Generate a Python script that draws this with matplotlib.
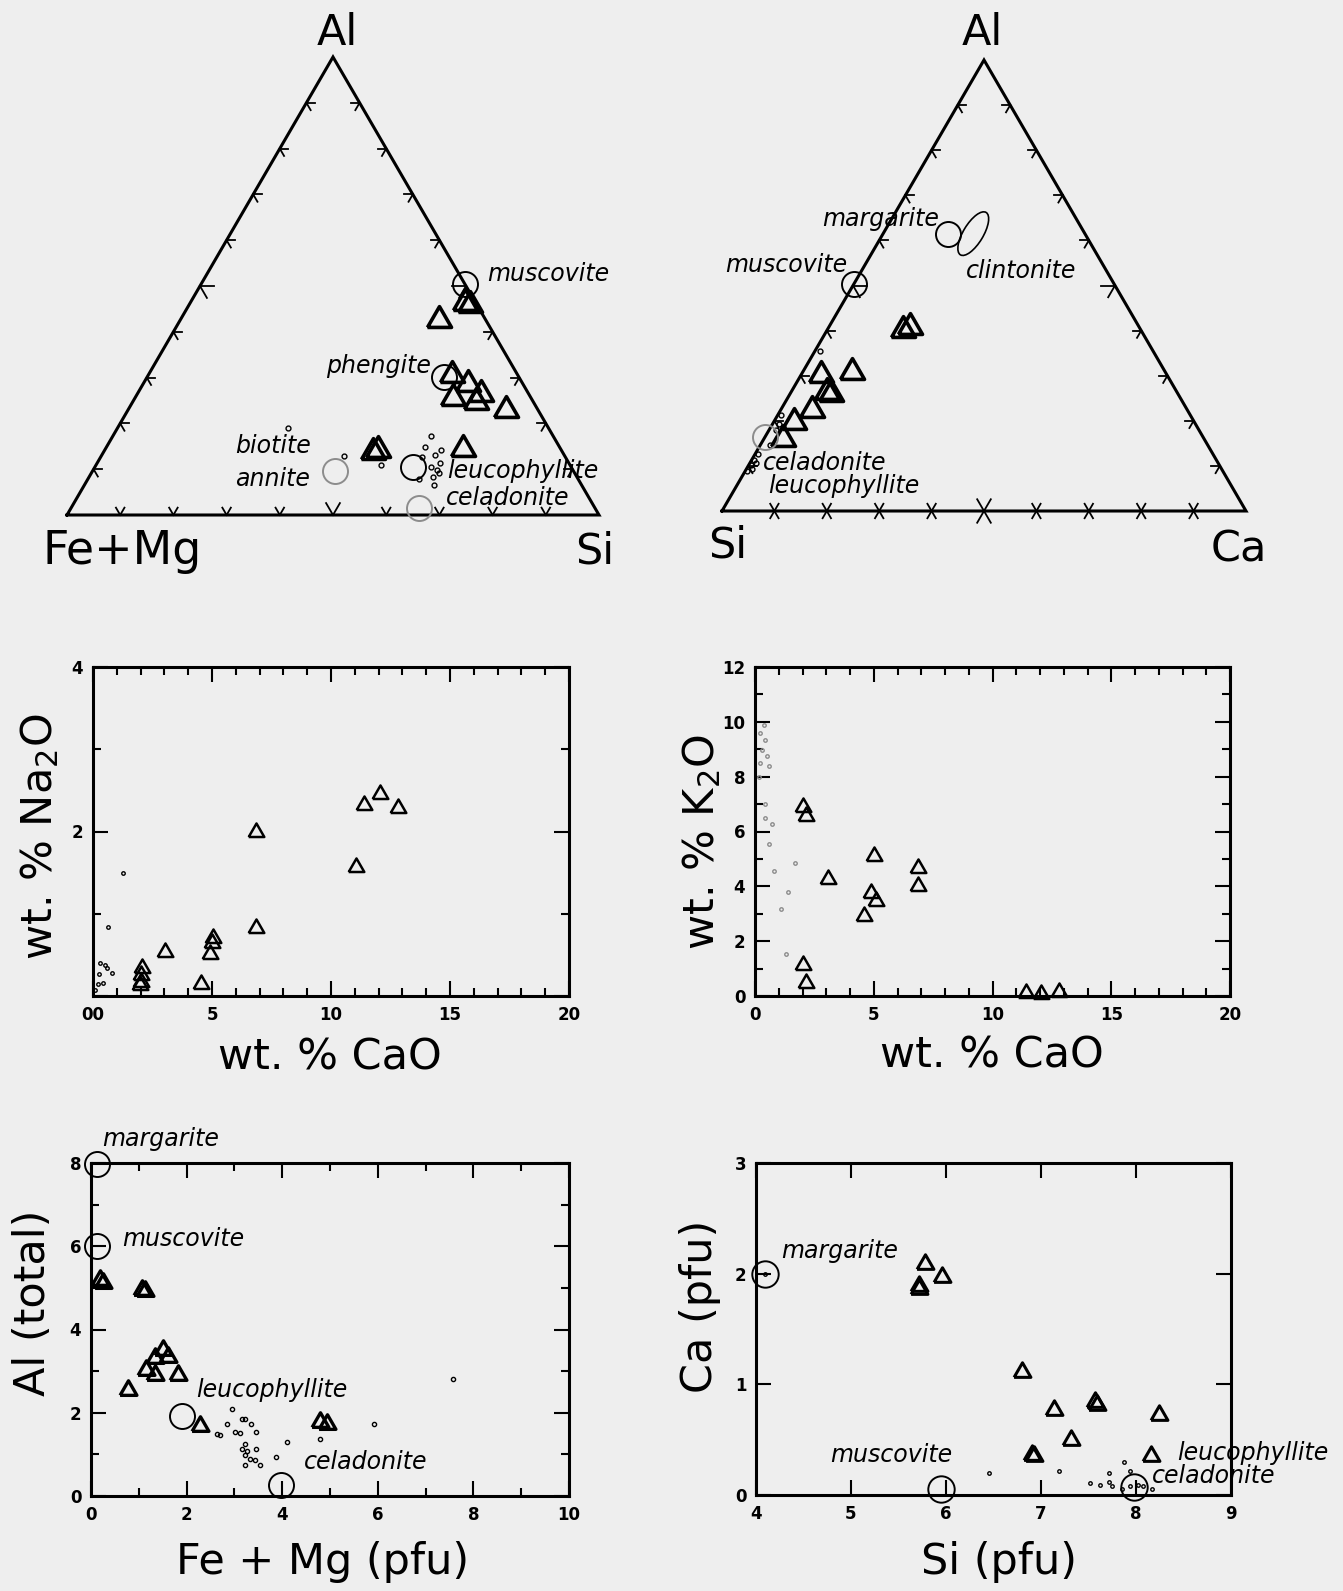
import numpy as np
import matplotlib
matplotlib.use('Agg')
import matplotlib.pyplot as plt
from matplotlib.patches import Ellipse

W, H = 1343, 1591
BG = '#eeeeee'
GREY = '#8c8c8c'

# ---------------- ternary 1: Al (top) - Fe+Mg (left) - Si (right); fractions, Fe+Mg = 1 - Al - Si
t1_tri_al = [0.462, 0.458, 0.425, 0.305, 0.287, 0.265, 0.255, 0.247, 0.229, 0.145, 0.138, 0.143]
t1_tri_si = [0.517, 0.529, 0.487, 0.572, 0.611, 0.646, 0.598, 0.645, 0.711, 0.672, 0.507, 0.513]
t1_dot_al = [0.189, 0.129, 0.109, 0.172, 0.149, 0.131, 0.143, 0.127, 0.105, 0.098, 0.084, 0.091, 0.065, 0.078, 0.113]
t1_dot_si = [0.321, 0.456, 0.536, 0.599, 0.599, 0.626, 0.631, 0.604, 0.632, 0.646, 0.646, 0.654, 0.658, 0.622, 0.645]
t1_end_names = ['muscovite', 'phengite', 'annite', 'leucophyllite', 'celadonite']
t1_end_al = [0.505, 0.302, 0.095, 0.105, 0.015]
t1_end_si = [0.495, 0.557, 0.456, 0.598, 0.654]
t1_end_grey = [False, False, True, False, True]

# ---------------- ternary 2: Al (top) - Si (left) - Ca (right); Si = 1 - Al - Ca
t2_tri_al = [0.402, 0.407, 0.308, 0.301, 0.264, 0.260, 0.223, 0.197, 0.160]
t2_tri_ca = [0.144, 0.155, 0.094, 0.039, 0.069, 0.078, 0.061, 0.038, 0.036]
t2_dot_al = [0.355, 0.212, 0.194, 0.179, 0.186, 0.146, 0.126, 0.112, 0.101, 0.089, 0.094, 0.107]
t2_dot_ca = [0.010, 0.007, 0.012, 0.014, 0.023, 0.018, 0.005, 0.005, 0.004, 0.004, 0.011, 0.011]
t2_end_names = ['muscovite', 'margarite', 'celadonite']
t2_end_al = [0.504, 0.615, 0.164]
t2_end_ca = [0.000, 0.124, 0.000]
t2_end_grey = [False, False, True]
clintonite_al, clintonite_ca = 0.615, 0.172

# ---------------- Na2O vs CaO (wt. %)
na_tri_cao = [6.83, 11.39, 12.05, 12.80, 11.03, 6.84, 3.03, 5.05, 4.98, 4.91, 2.07, 2.03, 2.00, 1.96, 4.53]
na_tri_na2o = [2.00, 2.32, 2.46, 2.28, 1.57, 0.83, 0.53, 0.70, 0.64, 0.51, 0.34, 0.26, 0.17, 0.13, 0.14]
na_dot_cao = [0.07, 0.20, 0.42, 0.28, 0.50, 0.60, 0.80, 0.25, 0.63, 1.26]
na_dot_na2o = [0.07, 0.15, 0.16, 0.40, 0.38, 0.34, 0.28, 0.27, 0.84, 1.49]

# ---------------- K2O vs CaO (wt. %)
k_tri_cao = [2.03, 2.13, 5.01, 3.08, 6.87, 6.87, 4.89, 5.11, 4.57, 2.03, 2.13, 11.40, 12.03, 12.78]
k_tri_k2o = [6.88, 6.58, 5.12, 4.26, 4.67, 4.02, 3.74, 3.47, 2.92, 1.13, 0.49, 0.12, 0.09, 0.16]
k_dot_cao = [0.44, 0.70, 0.58, 1.67, 0.80, 1.38, 1.09, 1.31, 0.44, 0.29, 0.22, 0.50, 0.15, 0.22, 0.36, 0.58, 0.44]
k_dot_k2o = [6.50, 6.27, 5.54, 4.85, 4.55, 3.78, 3.17, 1.55, 9.35, 8.99, 8.50, 8.75, 8.00, 9.60, 9.90, 8.40, 7.00]

# ---------------- Al (total) vs Fe + Mg (pfu)
al_end_names = ['margarite', 'muscovite', 'leucophyllite', 'celadonite']
al_end_femg = [0.12, 0.12, 1.90, 3.97]
al_end_al = [7.98, 6.00, 1.92, 0.26]
al_tri_femg = [0.19, 0.26, 1.06, 1.13, 1.51, 1.62, 1.34, 1.15, 1.34, 1.83, 0.78, 2.28, 4.79, 4.93]
al_tri_al = [5.19, 5.11, 4.94, 4.92, 3.51, 3.35, 3.31, 3.03, 2.91, 2.91, 2.54, 1.67, 1.78, 1.74]
al_dot_femg = [2.94, 3.15, 3.22, 3.34, 3.45, 3.01, 3.12, 2.63, 2.70, 3.22, 3.15, 3.26, 3.46, 3.22, 3.33,
               3.43, 3.22, 3.54, 3.88, 4.09, 4.79, 5.92, 7.57, 2.84]
al_dot_al = [2.09, 1.85, 1.85, 1.73, 1.53, 1.53, 1.52, 1.49, 1.47, 1.25, 1.13, 1.09, 1.13, 0.98, 0.90,
             0.86, 0.74, 0.74, 0.94, 1.30, 1.38, 1.74, 2.80, 1.72]

# ---------------- Ca vs Si (pfu)
ca_end_names = ['margarite', 'muscovite', 'celadonite']
ca_end_si = [4.09, 5.95, 7.98]
ca_end_ca = [2.00, 0.05, 0.075]
ca_tri_si = [5.78, 5.96, 5.72, 5.72, 6.80, 7.14, 7.57, 7.59, 8.24, 7.32, 6.91, 6.93, 8.16]
ca_tri_ca = [2.09, 1.97, 1.89, 1.86, 1.11, 0.77, 0.84, 0.81, 0.72, 0.50, 0.36, 0.35, 0.35]
ca_dot_si = [6.45, 7.19, 7.87, 7.94, 7.72, 7.52, 7.62, 7.72, 7.75, 7.85, 7.94, 8.02, 8.07, 8.17, 4.09]
ca_dot_ca = [0.20, 0.22, 0.30, 0.22, 0.20, 0.11, 0.09, 0.12, 0.08, 0.05, 0.08, 0.09, 0.08, 0.05, 2.00]

S3 = np.sqrt(3) / 2
TRI = [(-1, -0.577), (1, -0.577), (0, 1.155), (-1, -0.577)]


def px_axes(fig, left, top, right, bottom):
    return fig.add_axes([left / W, 1 - bottom / H, (right - left) / W, (bottom - top) / H])


def ptext(fig, x, y, s, **kw):
    fig.text(x / W, 1 - y / H, s, **kw)


def tern_xy(top, right):
    top = np.asarray(top, dtype=float)
    right = np.asarray(right, dtype=float)
    return right + top / 2, top * S3


def draw_frame(ax, cross_base=False):
    pts = np.array([[0, 0], [1, 0], [0.5, S3], [0, 0]])
    ax.plot(pts[:, 0], pts[:, 1], color='k', lw=2.2, clip_on=False, solid_joinstyle='miter')
    sides = [(pts[0], pts[1], pts[2]), (pts[1], pts[2], pts[0]), (pts[2], pts[0], pts[1])]
    for k, (p, q, r) in enumerate(sides):
        for i in range(1, 10):
            pt = p + i / 10 * (q - p)
            length = 0.026 if i == 5 else 0.016
            for d in (r - p, r - q):
                d = d / np.linalg.norm(d)
                start = pt - d * length if (cross_base and k == 0) else pt
                end = pt + d * length
                ax.plot([start[0], end[0]], [start[1], end[1]], color='k', lw=1.3, clip_on=False)
    ax.set_xlim(0, 1)
    ax.set_ylim(0, S3)
    ax.axis('off')


def style_panel(ax, xlim, ylim, xmaj, ymaj, xminor=(), yminor=(), xlabels=None, ylabels=None):
    ax.set_xlim(*xlim)
    ax.set_ylim(*ylim)
    ax.set_xticks(xmaj)
    ax.set_yticks(ymaj)
    ax.set_xticks(xminor, minor=True)
    ax.set_yticks(yminor, minor=True)
    if xlabels is not None:
        ax.set_xticklabels(xlabels)
    if ylabels is not None:
        ax.set_yticklabels(ylabels)
    ax.tick_params(which='both', direction='in', top=True, right=True, width=1.5)
    ax.tick_params(which='major', length=11, labelsize=12, pad=7)
    ax.tick_params(which='minor', length=6)
    for lab in ax.get_xticklabels() + ax.get_yticklabels():
        lab.set_fontweight('bold')
    for sp in ax.spines.values():
        sp.set_linewidth(2.2)
    ax.set_facecolor('none')


def tri(ax, x, y, ms=13, mew=1.8):
    ax.plot(x, y, ls='none', marker=TRI, ms=ms, mfc='none', mec='k', mew=mew, clip_on=False, zorder=4)


def dots(ax, x, y, color='k', ms=3.5):
    ax.plot(x, y, ls='none', marker='o', ms=ms, mfc='none', mec=color, mew=1.0, clip_on=False, zorder=3)


def circles(ax, x, y, grey=None, ms=18):
    for i, (xi, yi) in enumerate(zip(x, y)):
        c = GREY if (grey is not None and grey[i]) else 'k'
        ax.plot([xi], [yi], ls='none', marker='o', ms=ms, mfc='none', mec=c, mew=1.4,
                clip_on=False, zorder=5)


fig = plt.figure(figsize=(W / 100, H / 100), dpi=100, facecolor=BG)
lab_kw = dict(fontsize=17, style='italic', va='center')
big_kw = dict(fontsize=31, ha='center', va='center')

# ---- ternary 1
ax = px_axes(fig, 67, 57, 599, 515)
draw_frame(ax)
x, y = tern_xy(t1_dot_al, t1_dot_si)
dots(ax, x, y)
x, y = tern_xy(t1_tri_al, t1_tri_si)
tri(ax, x, y, ms=20, mew=2.6)
x, y = tern_xy(t1_end_al, t1_end_si)
circles(ax, x, y, grey=t1_end_grey)
ptext(fig, 487, 274, 'muscovite', **lab_kw)
ptext(fig, 431, 366, 'phengite', ha='right', **lab_kw)
ptext(fig, 235, 446, 'biotite', **lab_kw)
ptext(fig, 235, 479, 'annite', **lab_kw)
ptext(fig, 447, 471, 'leucophyllite', **lab_kw)
ptext(fig, 446, 498, 'celadonite', **lab_kw)
ptext(fig, 337, 33, 'Al', **big_kw)
ptext(fig, 122, 551, 'Fe+Mg', fontsize=33, ha='center', va='center')
ptext(fig, 595, 551, 'Si', **big_kw)

# ---- ternary 2
ax = px_axes(fig, 722, 60, 1246, 511)
draw_frame(ax, cross_base=True)
x, y = tern_xy(t2_dot_al, t2_dot_ca)
dots(ax, x, y)
x, y = tern_xy(t2_tri_al, t2_tri_ca)
tri(ax, x, y, ms=20, mew=2.6)
x, y = tern_xy(t2_end_al, t2_end_ca)
circles(ax, x, y, grey=t2_end_grey)
cx, cy = tern_xy(clintonite_al, clintonite_ca)
ax.add_patch(Ellipse((float(cx), float(cy)), 0.038, 0.095, angle=-31, fill=False, ec='k', lw=1.2))
ptext(fig, 939, 219, 'margarite', ha='right', **lab_kw)
ptext(fig, 847, 265, 'muscovite', ha='right', **lab_kw)
ptext(fig, 966, 271, 'clintonite', **lab_kw)
ptext(fig, 763, 463, 'celadonite', **lab_kw)
ptext(fig, 768, 486, 'leucophyllite', **lab_kw)
ptext(fig, 982, 33, 'Al', **big_kw)
ptext(fig, 728, 545, 'Si', **big_kw)
ptext(fig, 1239, 549, 'Ca', **big_kw)

# ---- Na2O vs CaO
ax = px_axes(fig, 93, 667, 569, 996)
style_panel(ax, (0, 20), (0, 4), [0, 5, 10, 15, 20], [0, 2, 4],
            xminor=range(1, 20), yminor=[1, 3],
            xlabels=['00', '5', '10', '15', '20'], ylabels=['', '2', '4'])
dots(ax, na_dot_cao, na_dot_na2o, ms=2.5)
tri(ax, na_tri_cao, na_tri_na2o)
ptext(fig, 330, 1057, 'wt. % CaO', **big_kw)
ptext(fig, 40, 837, 'wt. % Na$_2$O', rotation=90, **big_kw)

# ---- K2O vs CaO
ax = px_axes(fig, 755, 667, 1230, 996)
style_panel(ax, (0, 20), (0, 12), [0, 5, 10, 15, 20], list(range(0, 13, 2)),
            xminor=range(1, 20), yminor=range(1, 12, 2))
dots(ax, k_dot_cao, k_dot_k2o, color=GREY, ms=2.5)
tri(ax, k_tri_cao, k_tri_k2o)
ptext(fig, 992, 1055, 'wt. % CaO', **big_kw)
ptext(fig, 702, 842, 'wt. % K$_2$O', rotation=90, **big_kw)

# ---- Al (total) vs Fe + Mg
ax = px_axes(fig, 91, 1163, 569, 1496)
style_panel(ax, (0, 10), (0, 8), list(range(0, 11, 2)), list(range(0, 9, 2)),
            xminor=range(1, 10, 2), yminor=range(1, 8, 2))
dots(ax, al_dot_femg, al_dot_al, ms=3)
tri(ax, al_tri_femg, al_tri_al, ms=14, mew=2.4)
circles(ax, al_end_femg, al_end_al, ms=18)
ptext(fig, 102, 1139, 'margarite', **lab_kw)
ptext(fig, 122, 1239, 'muscovite', **lab_kw)
ptext(fig, 196, 1390, 'leucophyllite', **lab_kw)
ptext(fig, 304, 1462, 'celadonite', **lab_kw)
ptext(fig, 323, 1562, 'Fe + Mg (pfu)', **big_kw)
ptext(fig, 33, 1303, 'Al (total)', rotation=90, **big_kw)

# ---- Ca vs Si
ax = px_axes(fig, 756, 1163, 1231, 1495)
style_panel(ax, (4, 9), (0, 3), list(range(4, 10)), [0, 1, 2, 3])
dots(ax, ca_dot_si, ca_dot_ca, ms=2.5)
tri(ax, ca_tri_si, ca_tri_ca, ms=14, mew=2.2)
circles(ax, ca_end_si, ca_end_ca, ms=19)
ptext(fig, 781, 1251, 'margarite', **lab_kw)
ptext(fig, 830, 1455, 'muscovite', **lab_kw)
ptext(fig, 1177, 1453, 'leucophyllite', **lab_kw)
ptext(fig, 1152, 1476, 'celadonite', **lab_kw)
ptext(fig, 999, 1562, 'Si (pfu)', **big_kw)
ptext(fig, 700, 1306, 'Ca (pfu)', rotation=90, **big_kw)

fig.savefig('out.png', dpi=100, facecolor=BG)
plt.close(fig)
